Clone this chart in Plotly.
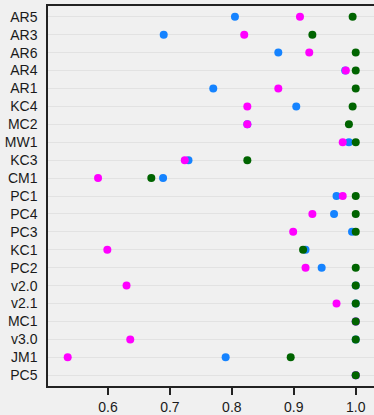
import plotly.graph_objects as go

# Categories, listed top to bottom
categories = ["AR5", "AR3", "AR6", "AR4", "AR1", "KC4", "MC2", "MW1", "KC3", "CM1",
              "PC1", "PC4", "PC3", "KC1", "PC2", "v2.0", "v2.1", "MC1", "v3.0", "JM1", "PC5"]

series_blue = [0.805, 0.690, 0.875, 0.983, 0.770, 0.904, 0.825, 0.989, 0.730, 0.689,
               0.969, 0.965, 0.994, 0.919, 0.945, 1.000, 1.000, 1.000, 1.000, 0.790, 1.000]
series_magenta = [0.910, 0.820, 0.925, 0.984, 0.875, 0.825, 0.825, 0.979, 0.724, 0.584,
                  0.979, 0.930, 0.899, 0.599, 0.919, 0.630, 0.969, 1.000, 0.636, 0.535, 1.000]
series_green = [0.995, 0.930, 1.000, 1.000, 1.000, 0.995, 0.989, 1.000, 0.825, 0.670,
                1.000, 1.000, 1.000, 0.915, 1.000, 1.000, 1.000, 1.000, 1.000, 0.895, 1.000]

x_ticks = [0.6, 0.7, 0.8, 0.9, 1.0]
x_tick_text = ["0.6", "0.7", "0.8", "0.9", "1.0"]

colors = {"blue": "#1583FF", "magenta": "#FF00FF", "green": "#006400"}

fig = go.Figure()
for name, vals in [("blue", series_blue), ("magenta", series_magenta), ("green", series_green)]:
    fig.add_trace(go.Scatter(
        x=vals, y=categories, mode="markers", name=name,
        marker=dict(size=8, color=colors[name], line=dict(width=0)),
        showlegend=False,
    ))

bg = "#F0F0F0"
fig.update_layout(
    width=374, height=415,
    margin=dict(l=48, r=0, t=6, b=29),
    paper_bgcolor=bg, plot_bgcolor=bg,
    font=dict(family="Liberation Sans, Arial, sans-serif", size=14, color="#1a1a1a"),
    xaxis=dict(
        range=[0.5032, 1.0295], tickvals=x_ticks, ticktext=x_tick_text,
        showgrid=False, zeroline=False,
        showline=True, linecolor="#222222", linewidth=1.5, mirror=True,
        ticks="outside", ticklen=7, tickwidth=1.5, tickcolor="#222222",
        tickfont=dict(size=14),
    ),
    yaxis=dict(
        type="category", categoryorder="array", categoryarray=categories,
        range=[len(categories) - 0.4, -0.6],
        showgrid=True, gridcolor="#E2E2E2", gridwidth=1, zeroline=False,
        showline=True, linecolor="#222222", linewidth=1.5, mirror=False,
        ticks="", ticklabelstandoff=6,
        tickfont=dict(size=14),
    ),
)

fig.write_html("out.html")
